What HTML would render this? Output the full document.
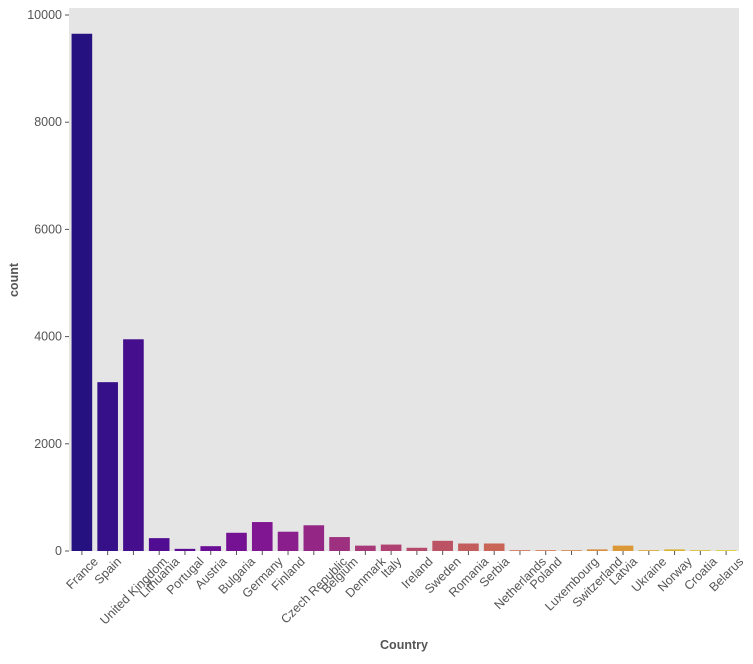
<!DOCTYPE html>
<html><head><meta charset="utf-8"><style>
body{margin:0;background:#fff;font-family:"Liberation Sans",sans-serif;}
</style></head><body>
<svg id="chart" width="753" height="659" xmlns="http://www.w3.org/2000/svg">
<rect x="69" y="8" width="670" height="543" fill="#e5e5e5"/>
<g id="bars"></g><g id="yticks"></g><g id="xticks"></g>
<text x="404" y="649" text-anchor="middle" font-size="12.5" font-weight="bold" fill="#555">Country</text>
<text transform="translate(18,280) rotate(-90)" text-anchor="middle" font-size="12.5" font-weight="bold" fill="#555">count</text>
</svg>
<script>
const categories=["France","Spain","United Kingdom","Lithuania","Portugal","Austria","Bulgaria","Germany","Finland","Czech Republic","Belgium","Denmark","Italy","Ireland","Sweden","Romania","Serbia","Netherlands","Poland","Luxembourg","Switzerland","Latvia","Ukraine","Norway","Croatia","Belarus"];
const counts=[9650,3150,3950,240,40,90,340,540,360,480,260,100,120,60,190,140,140,15,15,15,30,100,15,30,15,15];
const yTicks=[0,2000,4000,6000,8000,10000];
const NS="http://www.w3.org/2000/svg";
const x0=69,x1=739,yBase=551,yTop=15;
const y=v=>yBase-(v/10000)*(yBase-yTop);
const bw=(x1-x0)/categories.length;
const stops=["#0d0887","#41049d","#6a00a8","#8f0da4","#b12a90","#cc4778","#e16462","#f2844b","#fca636","#fcce25","#f0f921"];
function hex(h){return [1,3,5].map(i=>parseInt(h.substr(i,2),16));}
function plasma(t){const s=t*10,i=Math.min(9,Math.floor(s)),f=s-i,a=hex(stops[i]),b=hex(stops[i+1]);return a.map((v,k)=>v+(b[k]-v)*f);}
function mk(tag,attrs,parent){const e=document.createElementNS(NS,tag);for(const k in attrs)e.setAttribute(k,attrs[k]);parent.appendChild(e);return e;}
const bars=document.getElementById("bars"),xt=document.getElementById("xticks"),yt=document.getElementById("yticks");
categories.forEach((c,i)=>{
  const cx=x0+bw*(i+0.5);
  const t=(i+1)/(categories.length+1);
  const col=plasma(t).map(v=>Math.round(v*0.82+0.18*64));
  const r=mk("rect",{x:cx-bw*0.4,y:y(counts[i]),width:bw*0.8,height:yBase-y(counts[i]),fill:"rgb("+col.join(",")+")"},bars);
  
  
  mk("line",{x1:cx,x2:cx,y1:yBase,y2:yBase+4,stroke:"#555"},xt);
  const tx=mk("text",{"text-anchor":"middle","font-size":"12.5",fill:"#555",dy:"0.35em"},xt);
  tx.textContent=c;
  
  
  const w=tx.getComputedTextLength();
  const half=(w*0.7071+12*0.7071)/2;
  tx.setAttribute('transform',`translate(${cx},${yBase+4+half}) rotate(-45)`);
});
yTicks.forEach(v=>{
  mk("line",{x1:x0-4,x2:x0,y1:y(v),y2:y(v),stroke:"#555"},yt);
  const tx=mk("text",{x:x0-7,y:y(v)+4,"text-anchor":"end","font-size":"12.5",fill:"#555"},yt);
  tx.textContent=v;
  
  
});
</script>
</body></html>
